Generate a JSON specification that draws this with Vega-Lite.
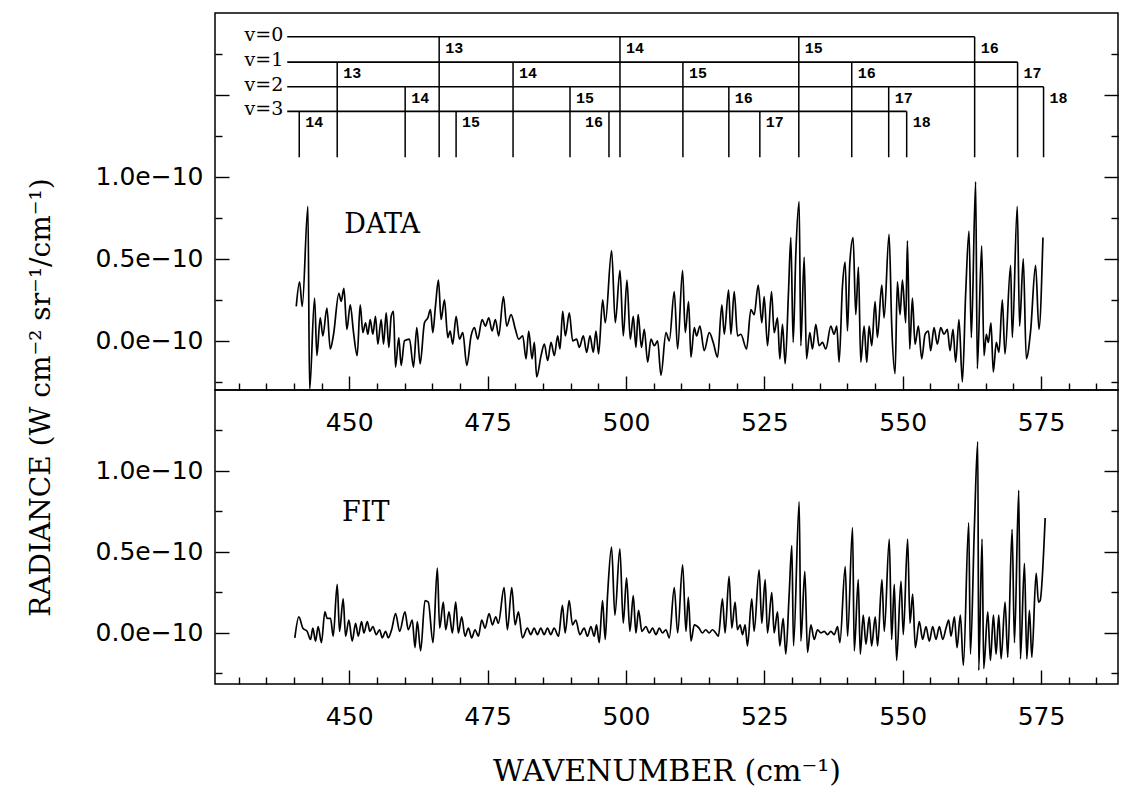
{
  "$schema": "https://vega.github.io/schema/vega-lite/v6.json",
  "background": "white",
  "padding": {"left": 26, "top": 12, "right": 0, "bottom": 0},
  "bounds": "flush",
  "spacing": 0,
  "config": {
    "view": {"stroke": "black", "strokeWidth": 1.5},
    "axis": {"domain": false, "grid": false, "tickColor": "black", "tickWidth": 1.4, "labelColor": "black", "labelFont": "DejaVu Sans", "labelFontSize": 25, "titleColor": "black", "titleFont": "DejaVu Serif", "titleFontWeight": "normal", "labelOverlap": false, "labelFlush": false, "labelBound": false}
  },
  "datasets": {
    "data": [
      {"wn":440.43,"rad":0.21},{"wn":441.03,"rad":0.36},{"wn":441.51,"rad":0.21},{"wn":442.54,"rad":0.82},{"wn":442.84,"rad":-0.30},{"wn":443.74,"rad":0.26},{"wn":444.16,"rad":-0.09},{"wn":444.76,"rad":0.14},{"wn":445.24,"rad":0.03},{"wn":445.97,"rad":0.20},{"wn":446.57,"rad":-0.05},{"wn":447.17,"rad":0.04},{"wn":448.13,"rad":0.29},{"wn":448.55,"rad":0.24},{"wn":449.04,"rad":0.32},{"wn":449.58,"rad":0.07},{"wn":450.18,"rad":0.22},{"wn":450.78,"rad":0.05},{"wn":451.44,"rad":-0.09},{"wn":451.98,"rad":0.22},{"wn":452.47,"rad":0.05},{"wn":452.95,"rad":0.11},{"wn":453.37,"rad":0.04},{"wn":453.79,"rad":0.13},{"wn":454.27,"rad":0.04},{"wn":454.75,"rad":0.15},{"wn":455.17,"rad":-0.02},{"wn":455.77,"rad":0.13},{"wn":456.20,"rad":-0.02},{"wn":456.68,"rad":0.17},{"wn":457.16,"rad":-0.04},{"wn":457.58,"rad":0.15},{"wn":458.00,"rad":0.18},{"wn":458.36,"rad":-0.16},{"wn":458.96,"rad":0.02},{"wn":459.38,"rad":-0.15},{"wn":459.99,"rad":0.00},{"wn":460.89,"rad":0.01},{"wn":461.61,"rad":-0.16},{"wn":462.21,"rad":0.08},{"wn":462.81,"rad":-0.14},{"wn":463.60,"rad":0.11},{"wn":464.20,"rad":0.14},{"wn":464.68,"rad":0.19},{"wn":465.10,"rad":0.05},{"wn":465.58,"rad":0.21},{"wn":466.12,"rad":0.37},{"wn":466.60,"rad":0.13},{"wn":467.21,"rad":0.25},{"wn":467.81,"rad":0.02},{"wn":468.23,"rad":0.06},{"wn":468.71,"rad":-0.02},{"wn":469.31,"rad":0.15},{"wn":469.91,"rad":0.01},{"wn":470.52,"rad":0.05},{"wn":471.24,"rad":-0.15},{"wn":472.02,"rad":0.03},{"wn":472.62,"rad":0.08},{"wn":473.22,"rad":0.01},{"wn":474.01,"rad":0.13},{"wn":474.61,"rad":0.09},{"wn":475.21,"rad":0.14},{"wn":475.81,"rad":0.06},{"wn":476.41,"rad":0.13},{"wn":477.01,"rad":0.03},{"wn":477.86,"rad":0.27},{"wn":478.46,"rad":0.09},{"wn":479.24,"rad":0.16},{"wn":480.02,"rad":0.07},{"wn":480.62,"rad":0.01},{"wn":481.35,"rad":0.03},{"wn":481.95,"rad":-0.11},{"wn":482.43,"rad":0.06},{"wn":483.03,"rad":-0.11},{"wn":483.45,"rad":-0.01},{"wn":483.87,"rad":-0.22},{"wn":484.66,"rad":-0.09},{"wn":485.26,"rad":-0.02},{"wn":485.86,"rad":-0.12},{"wn":486.46,"rad":-0.01},{"wn":487.06,"rad":-0.09},{"wn":487.66,"rad":0.03},{"wn":488.08,"rad":-0.05},{"wn":488.57,"rad":0.18},{"wn":489.05,"rad":0.03},{"wn":489.77,"rad":0.17},{"wn":490.37,"rad":0.00},{"wn":491.09,"rad":0.01},{"wn":491.57,"rad":-0.04},{"wn":492.30,"rad":0.03},{"wn":492.90,"rad":-0.07},{"wn":493.50,"rad":0.03},{"wn":494.10,"rad":-0.07},{"wn":494.58,"rad":0.06},{"wn":495.06,"rad":-0.08},{"wn":495.79,"rad":0.25},{"wn":496.27,"rad":0.11},{"wn":497.41,"rad":0.55},{"wn":498.07,"rad":0.11},{"wn":498.92,"rad":0.43},{"wn":499.52,"rad":0.03},{"wn":500.18,"rad":0.37},{"wn":500.78,"rad":0.01},{"wn":501.32,"rad":0.15},{"wn":501.8,"rad":-0.04},{"wn":502.2,"rad":0.16},{"wn":502.8,"rad":-0.04},{"wn":503.31,"rad":0.07},{"wn":503.92,"rad":-0.13},{"wn":504.52,"rad":0.01},{"wn":505.12,"rad":-0.03},{"wn":505.72,"rad":0.00},{"wn":506.32,"rad":-0.21},{"wn":507.23,"rad":0.05},{"wn":507.83,"rad":0.00},{"wn":508.73,"rad":0.30},{"wn":509.33,"rad":-0.05},{"wn":510.23,"rad":0.43},{"wn":510.71,"rad":0.05},{"wn":511.32,"rad":0.24},{"wn":511.74,"rad":-0.10},{"wn":512.34,"rad":0.08},{"wn":512.76,"rad":0.03},{"wn":513.36,"rad":0.09},{"wn":514.14,"rad":-0.06},{"wn":515.05,"rad":0.05},{"wn":515.77,"rad":-0.01},{"wn":516.55,"rad":-0.10},{"wn":517.33,"rad":0.22},{"wn":517.76,"rad":0.04},{"wn":518.54,"rad":0.31},{"wn":518.96,"rad":0.04},{"wn":519.56,"rad":0.30},{"wn":520.16,"rad":0.03},{"wn":520.76,"rad":0.04},{"wn":521.79,"rad":-0.05},{"wn":522.57,"rad":0.19},{"wn":523.17,"rad":0.16},{"wn":523.89,"rad":0.34},{"wn":524.55,"rad":0.11},{"wn":524.97,"rad":0.27},{"wn":525.58,"rad":-0.03},{"wn":526.30,"rad":0.30},{"wn":526.78,"rad":0.05},{"wn":527.38,"rad":0.14},{"wn":527.80,"rad":-0.11},{"wn":528.28,"rad":0.10},{"wn":528.77,"rad":-0.14},{"wn":529.37,"rad":0.30},{"wn":529.79,"rad":0.63},{"wn":530.21,"rad":-0.01},{"wn":530.69,"rad":0.53},{"wn":531.29,"rad":0.85},{"wn":531.59,"rad":-0.03},{"wn":532.20,"rad":0.51},{"wn":532.62,"rad":-0.11},{"wn":533.22,"rad":0.05},{"wn":533.70,"rad":-0.05},{"wn":534.30,"rad":0.10},{"wn":534.90,"rad":-0.03},{"wn":535.50,"rad":-0.01},{"wn":536.11,"rad":-0.05},{"wn":537.01,"rad":0.09},{"wn":537.61,"rad":0.04},{"wn":538.09,"rad":0.09},{"wn":538.51,"rad":-0.13},{"wn":539.11,"rad":0.33},{"wn":539.60,"rad":0.48},{"wn":540.02,"rad":0.06},{"wn":540.44,"rad":0.47},{"wn":541.04,"rad":0.63},{"wn":541.52,"rad":0.16},{"wn":542.00,"rad":0.45},{"wn":542.42,"rad":-0.13},{"wn":543.03,"rad":0.09},{"wn":543.51,"rad":-0.13},{"wn":543.93,"rad":0.09},{"wn":544.41,"rad":-0.03},{"wn":545.01,"rad":0.24},{"wn":545.43,"rad":0.02},{"wn":546.22,"rad":0.34},{"wn":546.64,"rad":0.14},{"wn":547.54,"rad":0.65},{"wn":548.02,"rad":0.09},{"wn":548.62,"rad":-0.20},{"wn":549.04,"rad":0.36},{"wn":549.52,"rad":0.16},{"wn":549.95,"rad":0.37},{"wn":550.55,"rad":0.11},{"wn":550.85,"rad":0.61},{"wn":551.27,"rad":-0.05},{"wn":551.75,"rad":0.26},{"wn":552.23,"rad":-0.02},{"wn":552.83,"rad":0.09},{"wn":553.44,"rad":-0.11},{"wn":554.04,"rad":0.04},{"wn":554.64,"rad":0.06},{"wn":555.06,"rad":-0.06},{"wn":555.66,"rad":0.08},{"wn":556.26,"rad":-0.02},{"wn":556.87,"rad":0.08},{"wn":557.47,"rad":0.04},{"wn":558.07,"rad":0.07},{"wn":558.55,"rad":-0.06},{"wn":559.09,"rad":0.07},{"wn":559.57,"rad":-0.13},{"wn":560.17,"rad":0.13},{"wn":560.78,"rad":-0.25},{"wn":561.38,"rad":0.29},{"wn":561.98,"rad":0.67},{"wn":562.40,"rad":0.02},{"wn":563.18,"rad":0.97},{"wn":563.48,"rad":-0.17},{"wn":564.27,"rad":0.58},{"wn":564.69,"rad":-0.09},{"wn":565.11,"rad":0.04},{"wn":565.47,"rad":-0.01},{"wn":565.95,"rad":0.11},{"wn":566.37,"rad":-0.19},{"wn":566.91,"rad":-0.01},{"wn":567.40,"rad":-0.07},{"wn":568.00,"rad":0.25},{"wn":568.48,"rad":-0.08},{"wn":569.50,"rad":0.46},{"wn":569.80,"rad":0.02},{"wn":570.70,"rad":0.82},{"wn":571.12,"rad":0.09},{"wn":571.79,"rad":0.50},{"wn":572.33,"rad":-0.11},{"wn":573.11,"rad":0.06},{"wn":574.01,"rad":0.46},{"wn":574.62,"rad":0.07},{"wn":575.34,"rad":0.63}
    ],
    "fit": [
      {"wn":440.17,"rad":-0.03},{"wn":440.90,"rad":0.10},{"wn":441.62,"rad":0.03},{"wn":442.40,"rad":0.01},{"wn":443.01,"rad":-0.04},{"wn":443.43,"rad":0.03},{"wn":443.91,"rad":-0.05},{"wn":444.39,"rad":0.04},{"wn":444.98,"rad":-0.06},{"wn":445.60,"rad":0.13},{"wn":446.02,"rad":0.09},{"wn":446.62,"rad":0.09},{"wn":447.11,"rad":-0.02},{"wn":447.83,"rad":0.30},{"wn":448.25,"rad":0.01},{"wn":448.91,"rad":0.21},{"wn":449.34,"rad":-0.02},{"wn":449.94,"rad":0.08},{"wn":450.54,"rad":-0.05},{"wn":451.15,"rad":0.06},{"wn":451.63,"rad":-0.02},{"wn":452.23,"rad":0.07},{"wn":452.65,"rad":0.00},{"wn":453.26,"rad":0.07},{"wn":453.74,"rad":0.01},{"wn":454.28,"rad":0.04},{"wn":454.88,"rad":-0.01},{"wn":455.49,"rad":0.02},{"wn":455.97,"rad":-0.03},{"wn":456.57,"rad":0.01},{"wn":457.06,"rad":-0.03},{"wn":457.66,"rad":0.02},{"wn":458.38,"rad":0.12},{"wn":459.11,"rad":0.01},{"wn":460.07,"rad":0.13},{"wn":460.67,"rad":0.02},{"wn":461.40,"rad":0.08},{"wn":461.88,"rad":-0.09},{"wn":462.30,"rad":0.07},{"wn":462.90,"rad":-0.11},{"wn":463.69,"rad":0.20},{"wn":464.29,"rad":0.19},{"wn":465.14,"rad":-0.06},{"wn":465.92,"rad":0.40},{"wn":466.34,"rad":0.03},{"wn":467.00,"rad":0.19},{"wn":467.43,"rad":0.02},{"wn":468.03,"rad":0.13},{"wn":468.63,"rad":0.00},{"wn":469.24,"rad":0.19},{"wn":469.72,"rad":0.00},{"wn":470.32,"rad":0.10},{"wn":470.92,"rad":-0.02},{"wn":471.53,"rad":0.03},{"wn":472.13,"rad":-0.03},{"wn":472.73,"rad":0.02},{"wn":473.34,"rad":-0.02},{"wn":473.94,"rad":0.08},{"wn":474.54,"rad":0.03},{"wn":475.27,"rad":0.12},{"wn":475.87,"rad":0.05},{"wn":476.47,"rad":0.10},{"wn":476.95,"rad":0.06},{"wn":477.98,"rad":0.28},{"wn":478.58,"rad":0.02},{"wn":479.37,"rad":0.28},{"wn":479.97,"rad":0.05},{"wn":480.57,"rad":0.13},{"wn":481.30,"rad":-0.03},{"wn":482.20,"rad":0.03},{"wn":482.80,"rad":-0.01},{"wn":483.41,"rad":0.03},{"wn":484.01,"rad":-0.01},{"wn":484.61,"rad":0.03},{"wn":485.22,"rad":-0.01},{"wn":485.82,"rad":0.03},{"wn":486.42,"rad":-0.01},{"wn":487.02,"rad":0.03},{"wn":487.81,"rad":-0.02},{"wn":488.53,"rad":0.17},{"wn":489.01,"rad":0.00},{"wn":489.74,"rad":0.20},{"wn":490.34,"rad":0.05},{"wn":490.94,"rad":0.08},{"wn":491.67,"rad":-0.01},{"wn":492.45,"rad":0.03},{"wn":493.05,"rad":-0.02},{"wn":493.66,"rad":0.04},{"wn":494.26,"rad":-0.02},{"wn":494.68,"rad":0.05},{"wn":495.17,"rad":-0.06},{"wn":495.77,"rad":0.20},{"wn":496.25,"rad":-0.04},{"wn":496.67,"rad":0.23},{"wn":497.40,"rad":0.53},{"wn":498.00,"rad":0.11},{"wn":498.90,"rad":0.52},{"wn":499.51,"rad":0.06},{"wn":500.11,"rad":0.34},{"wn":500.71,"rad":0.01},{"wn":501.32,"rad":0.23},{"wn":501.80,"rad":0.00},{"wn":502.28,"rad":0.14},{"wn":502.88,"rad":0.01},{"wn":503.61,"rad":0.04},{"wn":504.21,"rad":0.00},{"wn":504.81,"rad":0.03},{"wn":505.42,"rad":-0.01},{"wn":506.02,"rad":0.03},{"wn":506.62,"rad":0.00},{"wn":507.23,"rad":0.02},{"wn":507.83,"rad":-0.03},{"wn":508.73,"rad":0.28},{"wn":509.34,"rad":0.00},{"wn":510.24,"rad":0.42},{"wn":510.84,"rad":0.01},{"wn":511.27,"rad":0.22},{"wn":511.75,"rad":-0.05},{"wn":512.35,"rad":0.05},{"wn":513.21,"rad":0.03},{"wn":513.81,"rad":0.00},{"wn":514.41,"rad":0.02},{"wn":515.02,"rad":0.00},{"wn":515.62,"rad":0.02},{"wn":516.22,"rad":0.00},{"wn":516.70,"rad":-0.02},{"wn":517.43,"rad":0.21},{"wn":517.91,"rad":0.00},{"wn":518.63,"rad":0.35},{"wn":519.12,"rad":0.03},{"wn":519.72,"rad":0.19},{"wn":520.14,"rad":0.02},{"wn":520.62,"rad":0.05},{"wn":521.05,"rad":-0.01},{"wn":521.53,"rad":0.05},{"wn":521.95,"rad":-0.08},{"wn":522.73,"rad":0.21},{"wn":523.16,"rad":0.01},{"wn":524.06,"rad":0.39},{"wn":524.54,"rad":0.06},{"wn":525.15,"rad":0.33},{"wn":525.57,"rad":0.00},{"wn":526.35,"rad":0.25},{"wn":526.77,"rad":0.00},{"wn":527.38,"rad":0.13},{"wn":527.80,"rad":-0.08},{"wn":528.40,"rad":0.09},{"wn":528.88,"rad":-0.13},{"wn":529.49,"rad":0.24},{"wn":529.97,"rad":0.54},{"wn":530.27,"rad":-0.08},{"wn":531.30,"rad":0.81},{"wn":531.60,"rad":-0.05},{"wn":532.32,"rad":0.38},{"wn":532.80,"rad":-0.12},{"wn":533.41,"rad":0.05},{"wn":534.01,"rad":-0.04},{"wn":534.61,"rad":0.02},{"wn":535.22,"rad":0.00},{"wn":535.82,"rad":0.01},{"wn":536.42,"rad":-0.01},{"wn":537.02,"rad":0.01},{"wn":537.63,"rad":-0.01},{"wn":538.23,"rad":0.04},{"wn":538.65,"rad":-0.06},{"wn":539.62,"rad":0.41},{"wn":540.04,"rad":-0.02},{"wn":540.94,"rad":0.65},{"wn":541.25,"rad":-0.11},{"wn":541.97,"rad":0.33},{"wn":542.33,"rad":-0.13},{"wn":542.87,"rad":0.11},{"wn":543.36,"rad":-0.07},{"wn":543.96,"rad":0.10},{"wn":544.38,"rad":-0.08},{"wn":545.04,"rad":0.10},{"wn":545.47,"rad":-0.08},{"wn":546.25,"rad":0.33},{"wn":546.67,"rad":0.01},{"wn":547.58,"rad":0.58},{"wn":548.00,"rad":-0.04},{"wn":548.48,"rad":0.30},{"wn":548.90,"rad":-0.17},{"wn":549.69,"rad":0.32},{"wn":550.11,"rad":-0.01},{"wn":550.89,"rad":0.58},{"wn":551.32,"rad":0.06},{"wn":551.80,"rad":0.24},{"wn":552.28,"rad":-0.09},{"wn":553.00,"rad":0.07},{"wn":553.61,"rad":-0.04},{"wn":554.21,"rad":0.04},{"wn":554.81,"rad":-0.05},{"wn":555.42,"rad":0.04},{"wn":556.02,"rad":-0.04},{"wn":556.62,"rad":0.04},{"wn":557.23,"rad":-0.04},{"wn":557.83,"rad":0.03},{"wn":558.31,"rad":0.08},{"wn":558.73,"rad":-0.02},{"wn":559.34,"rad":0.10},{"wn":559.82,"rad":-0.09},{"wn":560.42,"rad":0.11},{"wn":560.96,"rad":-0.20},{"wn":561.93,"rad":0.68},{"wn":562.23,"rad":-0.13},{"wn":562.95,"rad":0.65},{"wn":563.56,"rad":1.18},{"wn":563.74,"rad":-0.23},{"wn":564.34,"rad":0.58},{"wn":564.64,"rad":-0.22},{"wn":565.37,"rad":0.13},{"wn":565.85,"rad":-0.17},{"wn":566.39,"rad":0.11},{"wn":566.87,"rad":-0.13},{"wn":567.36,"rad":0.11},{"wn":567.78,"rad":-0.16},{"wn":568.50,"rad":0.19},{"wn":568.98,"rad":-0.15},{"wn":569.77,"rad":0.64},{"wn":570.19,"rad":-0.06},{"wn":570.97,"rad":0.88},{"wn":571.27,"rad":-0.16},{"wn":572.00,"rad":0.43},{"wn":572.42,"rad":-0.16},{"wn":572.90,"rad":0.14},{"wn":573.33,"rad":-0.15},{"wn":574.11,"rad":0.37},{"wn":574.53,"rad":0.19},{"wn":574.83,"rad":0.20},{"wn":575.74,"rad":0.71}
    ],
    "levels": [
      {"v": 0, "label": "v=0", "level": 1.855, "start": 438.8, "end": 563.0},
      {"v": 1, "label": "v=1", "level": 1.70, "start": 438.8, "end": 570.76},
      {"v": 2, "label": "v=2", "level": 1.55, "start": 438.8, "end": 575.45},
      {"v": 3, "label": "v=3", "level": 1.40, "start": 438.8, "end": 550.72}
    ],
    "bands": [
      {"v": 0, "J": 13, "wn": 466.25, "level": 1.855},
      {"v": 0, "J": 14, "wn": 498.92, "level": 1.855},
      {"v": 0, "J": 15, "wn": 531.23, "level": 1.855},
      {"v": 0, "J": 16, "wn": 563.0, "level": 1.855},
      {"v": 1, "J": 13, "wn": 447.83, "level": 1.70},
      {"v": 1, "J": 14, "wn": 479.6, "level": 1.70},
      {"v": 1, "J": 15, "wn": 510.29, "level": 1.70},
      {"v": 1, "J": 16, "wn": 540.79, "level": 1.70},
      {"v": 1, "J": 17, "wn": 570.76, "level": 1.70},
      {"v": 2, "J": 14, "wn": 460.11, "level": 1.55},
      {"v": 2, "J": 15, "wn": 489.89, "level": 1.55},
      {"v": 2, "J": 16, "wn": 518.59, "level": 1.55},
      {"v": 2, "J": 17, "wn": 547.47, "level": 1.55},
      {"v": 2, "J": 18, "wn": 575.45, "level": 1.55},
      {"v": 3, "J": 14, "wn": 440.97, "level": 1.40},
      {"v": 3, "J": 15, "wn": 469.31, "level": 1.40},
      {"v": 3, "J": 16, "wn": 496.93, "level": 1.40},
      {"v": 3, "J": 17, "wn": 524.19, "level": 1.40},
      {"v": 3, "J": 18, "wn": 550.72, "level": 1.40}
    ],
    "fitLabel": [{"label": "FIT", "wn": 448.7, "rad": 0.69}]
  },
  "vconcat": [
    {
      "width": 903,
      "height": 377,
      "resolve": {"axis": {"x": "independent", "y": "independent"}},
      "layer": [
        {
          "data": {"name": "data"},
          "mark": {"type": "line", "color": "black", "strokeWidth": 1.7, "interpolate": "monotone"},
          "encoding": {
            "x": {"field": "wn", "type": "quantitative", "scale": {"domain": [425.75, 588.9], "nice": false, "zero": false},
              "axis": {"orient": "bottom", "title": null, "values": [450,475,500,525,550,575], "ticks": false, "labelPadding": 20}},
            "y": {"field": "rad", "type": "quantitative", "scale": {"domain": [-0.30, 2.0], "nice": false, "zero": false},
              "axis": {"orient": "left", "values": [0,0.5,1], "ticks": false,
                "labelExpr": "format(datum.value, '.1f') + 'e\u221210'",
                "labelPadding": 12,
                "title": "RADIANCE (W cm\u207b\u00b2 sr\u207b\u00b9/cm\u207b\u00b9)", "titleFontSize": 28, "titleY": 384, "titlePadding": 40}}
          }
        },
        {
          "data": {"name": "levels"},
          "mark": {"type": "rule", "color": "black", "strokeWidth": 1.6},
          "encoding": {
            "x": {"field": "start", "type": "quantitative", "scale": {"domain": [425.75, 588.9], "nice": false, "zero": false},
              "axis": {"orient": "bottom", "title": null, "labels": false, "values": [450,475,500,525,550,575], "tickSize": -14}},
            "x2": {"field": "end"},
            "y": {"field": "level", "type": "quantitative", "scale": {"domain": [-0.30, 2.0], "nice": false, "zero": false},
              "axis": {"orient": "left", "title": null, "labels": false, "values": [0,0.5,1,1.5], "tickSize": -14}}
          }
        },
        {
          "data": {"name": "levels"},
          "mark": {"type": "text", "align": "right", "baseline": "middle", "dx": -4, "dy": -2, "font": "DejaVu Serif", "fontSize": 19, "color": "black"},
          "encoding": {
            "x": {"field": "start", "type": "quantitative", "scale": {"domain": [425.75, 588.9], "nice": false, "zero": false},
              "axis": {"orient": "bottom", "title": null, "labels": false, "values": [430,435,440,445,455,460,465,470,480,485,490,495,505,510,515,520,530,535,540,545,555,560,565,570,580,585], "tickSize": -7}},
            "y": {"field": "level", "type": "quantitative", "scale": {"domain": [-0.30, 2.0], "nice": false, "zero": false},
              "axis": {"orient": "left", "title": null, "labels": false, "values": [-0.25,0.25,0.75,1.25,1.75], "tickSize": -7}},
            "text": {"field": "label"}
          }
        },
        {
          "data": {"name": "bands"},
          "mark": {"type": "rule", "color": "black", "strokeWidth": 1.5},
          "encoding": {
            "x": {"field": "wn", "type": "quantitative", "scale": {"domain": [425.75, 588.9], "nice": false, "zero": false}, "axis": null},
            "y": {"field": "level", "type": "quantitative", "scale": {"domain": [-0.30, 2.0], "nice": false, "zero": false},
              "axis": {"orient": "right", "title": null, "labels": false, "values": [0,0.5,1,1.5], "tickSize": -14}},
            "y2": {"datum": 1.12}
          }
        },
        {
          "data": {"name": "bands"},
          "transform": [{"filter": "!(datum.v === 3 && datum.J === 16)"}],
          "mark": {"type": "text", "align": "left", "baseline": "top", "dx": 6, "dy": 4, "font": "Liberation Mono", "fontWeight": "bold", "fontSize": 15, "color": "black"},
          "encoding": {
            "x": {"field": "wn", "type": "quantitative", "scale": {"domain": [425.75, 588.9], "nice": false, "zero": false}, "axis": null},
            "y": {"field": "level", "type": "quantitative", "scale": {"domain": [-0.30, 2.0], "nice": false, "zero": false},
              "axis": {"orient": "right", "title": null, "labels": false, "values": [-0.25,0.25,0.75,1.25,1.75], "tickSize": -7}},
            "text": {"field": "J"}
          }
        },
        {
          "data": {"name": "bands"},
          "transform": [{"filter": "datum.v === 3 && datum.J === 16"}],
          "mark": {"type": "text", "align": "right", "baseline": "top", "dx": -6, "dy": 4, "font": "Liberation Mono", "fontWeight": "bold", "fontSize": 15, "color": "black"},
          "encoding": {
            "x": {"field": "wn", "type": "quantitative", "scale": {"domain": [425.75, 588.9], "nice": false, "zero": false}, "axis": null},
            "y": {"field": "level", "type": "quantitative", "scale": {"domain": [-0.30, 2.0], "nice": false, "zero": false}, "axis": null},
            "text": {"field": "J"}
          }
        },
        {
          "data": {"values": [{"label": "DATA", "wn": 449.1, "rad": 0.66}]},
          "mark": {"type": "text", "align": "left", "baseline": "alphabetic", "font": "DejaVu Serif", "fontSize": 27, "color": "black"},
          "encoding": {
            "x": {"field": "wn", "type": "quantitative", "scale": {"domain": [425.75, 588.9], "nice": false, "zero": false}, "axis": null},
            "y": {"field": "rad", "type": "quantitative", "scale": {"domain": [-0.30, 2.0], "nice": false, "zero": false}, "axis": null},
            "text": {"field": "label"}
          }
        }
      ]
    },
    {
      "width": 903,
      "height": 294,
      "resolve": {"axis": {"x": "independent", "y": "independent"}},
      "layer": [
        {
          "data": {"name": "fit"},
          "mark": {"type": "line", "color": "black", "strokeWidth": 1.7, "interpolate": "monotone"},
          "encoding": {
            "x": {"field": "wn", "type": "quantitative", "scale": {"domain": [425.75, 588.9], "nice": false, "zero": false},
              "axis": {"orient": "bottom", "title": "WAVENUMBER (cm\u207b\u00b9)", "titleFontSize": 30, "titlePadding": 27,
                "values": [450,475,500,525,550,575], "ticks": false, "labelPadding": 20}},
            "y": {"field": "rad", "type": "quantitative", "scale": {"domain": [-0.315, 1.5], "nice": false, "zero": false},
              "axis": {"orient": "left", "values": [0,0.5,1], "ticks": false,
                "labelExpr": "format(datum.value, '.1f') + 'e\u221210'",
                "labelPadding": 12, "title": null}}
          }
        },
        {
          "data": {"name": "fitLabel"},
          "mark": {"type": "text", "align": "left", "baseline": "alphabetic", "font": "DejaVu Serif", "fontSize": 27, "color": "black"},
          "encoding": {
            "x": {"field": "wn", "type": "quantitative", "scale": {"domain": [425.75, 588.9], "nice": false, "zero": false},
              "axis": {"orient": "bottom", "title": null, "labels": false, "values": [450,475,500,525,550,575], "tickSize": -14}},
            "y": {"field": "rad", "type": "quantitative", "scale": {"domain": [-0.315, 1.5], "nice": false, "zero": false},
              "axis": {"orient": "left", "title": null, "labels": false, "values": [0,0.5,1], "tickSize": -14}},
            "text": {"field": "label"}
          }
        },
        {
          "data": {"name": "fitLabel"},
          "mark": {"type": "text", "opacity": 0},
          "encoding": {
            "x": {"field": "wn", "type": "quantitative", "scale": {"domain": [425.75, 588.9], "nice": false, "zero": false},
              "axis": {"orient": "bottom", "title": null, "labels": false, "values": [430,435,440,445,455,460,465,470,480,485,490,495,505,510,515,520,530,535,540,545,555,560,565,570,580,585], "tickSize": -7}},
            "y": {"field": "rad", "type": "quantitative", "scale": {"domain": [-0.315, 1.5], "nice": false, "zero": false},
              "axis": {"orient": "left", "title": null, "labels": false, "values": [-0.25,0.25,0.75,1.25], "tickSize": -7}},
            "text": {"field": "label"}
          }
        },
        {
          "data": {"name": "fitLabel"},
          "mark": {"type": "text", "opacity": 0},
          "encoding": {
            "x": {"field": "wn", "type": "quantitative", "scale": {"domain": [425.75, 588.9], "nice": false, "zero": false}, "axis": null},
            "y": {"field": "rad", "type": "quantitative", "scale": {"domain": [-0.315, 1.5], "nice": false, "zero": false},
              "axis": {"orient": "right", "title": null, "labels": false, "values": [0,0.5,1], "tickSize": -14}},
            "text": {"field": "label"}
          }
        },
        {
          "data": {"name": "fitLabel"},
          "mark": {"type": "text", "opacity": 0},
          "encoding": {
            "x": {"field": "wn", "type": "quantitative", "scale": {"domain": [425.75, 588.9], "nice": false, "zero": false}, "axis": null},
            "y": {"field": "rad", "type": "quantitative", "scale": {"domain": [-0.315, 1.5], "nice": false, "zero": false},
              "axis": {"orient": "right", "title": null, "labels": false, "values": [-0.25,0.25,0.75,1.25], "tickSize": -7}},
            "text": {"field": "label"}
          }
        }
      ]
    }
  ]
}
